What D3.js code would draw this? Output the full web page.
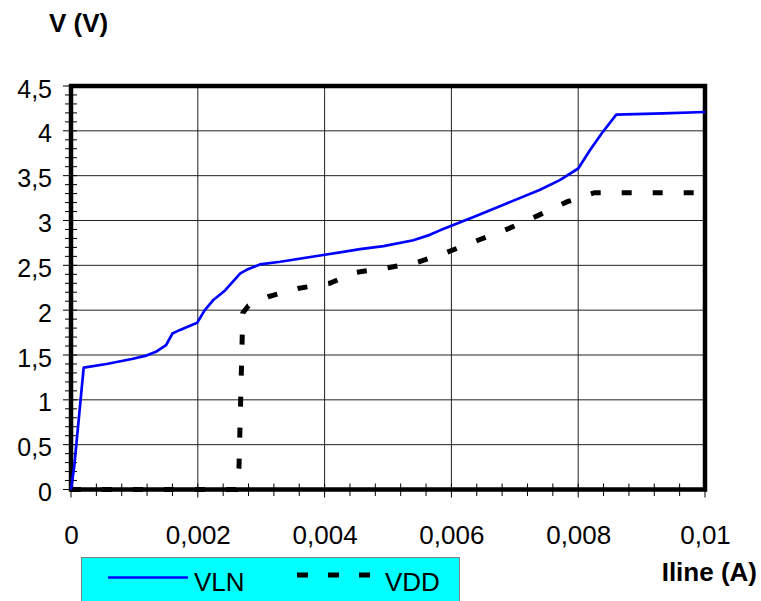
<!DOCTYPE html>
<html>
<head>
<meta charset="utf-8">
<script src="https://cdn.jsdelivr.net/npm/d3@7"></script>
<style>
  body { margin: 0; background: #fff; }
  svg { display: block; font-family: "Liberation Sans", Arial, sans-serif; }
</style>
</head>
<body>
<div id="chart"></div>
<script>
// values (current in A, voltage in V)
var vlnCurrent = [0, 0.00005, 0.0002, 0.00056, 0.00096, 0.00117, 0.00135, 0.0015, 0.0016, 0.00172,
    0.00199, 0.00211, 0.00224, 0.00243, 0.00267, 0.00277, 0.00298, 0.0033, 0.00398, 0.00456,
    0.00493, 0.0054, 0.00566, 0.00582, 0.00635, 0.00687, 0.00739, 0.00771, 0.008, 0.00819,
    0.00837, 0.0086, 0.00934, 0.01];
var vlnVoltage = [0, 0.25, 1.36, 1.40, 1.455, 1.49, 1.54, 1.61, 1.74, 1.78,
    1.86, 2.0, 2.11, 2.22, 2.41, 2.45, 2.51, 2.54, 2.615, 2.68,
    2.715, 2.78, 2.84, 2.89, 3.04, 3.19, 3.34, 3.45, 3.58, 3.79,
    3.97, 4.18, 4.195, 4.21];

var vddCurrent = [0, 0.0026, 0.00265, 0.00271, 0.0028, 0.00311, 0.0036, 0.00408, 0.00448, 0.00497,
    0.00545, 0.00593, 0.00642, 0.0069, 0.00738, 0.00783, 0.00826, 0.01];
var vddVoltage = [0, 0, 0.25, 1.97, 2.05, 2.15, 2.245, 2.30, 2.42, 2.47,
    2.53, 2.645, 2.78, 2.91, 3.06, 3.21, 3.31, 3.31];

var yTicks = [0, 0.5, 1, 1.5, 2, 2.5, 3, 3.5, 4, 4.5];
var yTickLabels = ["0", "0,5", "1", "1,5", "2", "2,5", "3", "3,5", "4", "4,5"];
var xTicks = [0, 0.002, 0.004, 0.006, 0.008, 0.01];
var xTickLabels = ["0", "0,002", "0,004", "0,006", "0,008", "0,01"];
var seriesNames = ["VLN", "VDD"];

var svgWidth = 761;
var svgHeight = 601;

// plot area edges (note: "top" is taken by window.top)
var plotLeft = 71, plotRight = 705, plotTop = 86, plotBottom = 489.5;

var svg = d3.select("#chart")
    .append("svg")
    .attr("width", svgWidth)
    .attr("height", svgHeight);

var xScale = d3.scaleLinear().domain([0, 0.01]).range([plotLeft, plotRight]);
var yScale = d3.scaleLinear().domain([0, 4.5]).range([plotBottom, plotTop]);

// grid lines
svg.append("g")
    .selectAll("line")
    .data(yTicks.slice(1, -1))
    .enter()
    .append("line")
    .attr("x1", plotLeft).attr("x2", plotRight)
    .attr("y1", d => yScale(d)).attr("y2", d => yScale(d))
    .attr("stroke", "#222")
    .attr("stroke-width", 1);

svg.append("g")
    .selectAll("line")
    .data(xTicks.slice(1, -1))
    .enter()
    .append("line")
    .attr("y1", plotTop).attr("y2", plotBottom)
    .attr("x1", d => xScale(d)).attr("x2", d => xScale(d))
    .attr("stroke", "#222")
    .attr("stroke-width", 1);

// minor ticks, crossing the axis lines
var yMinor = d3.range(0, 46).map(i => i / 10);
svg.append("g")
    .selectAll("line")
    .data(yMinor)
    .enter()
    .append("line")
    .attr("x1", (d, i) => i % 5 == 0 ? 63 : 65)
    .attr("x2", 77)
    .attr("y1", d => yScale(d)).attr("y2", d => yScale(d))
    .attr("stroke", "#000")
    .attr("stroke-width", 1);

var xMinor = d3.range(0, 26).map(i => i * 0.0004);
svg.append("g")
    .selectAll("line")
    .data(xMinor)
    .enter()
    .append("line")
    .attr("y1", 483.5)
    .attr("y2", (d, i) => i % 5 == 0 ? 497.5 : 496)
    .attr("x1", d => xScale(d)).attr("x2", d => xScale(d))
    .attr("stroke", "#000")
    .attr("stroke-width", 1);

// thick frame
svg.append("rect")
    .attr("x", plotLeft).attr("y", plotTop)
    .attr("width", plotRight - plotLeft).attr("height", plotBottom - plotTop)
    .attr("fill", "none")
    .attr("stroke", "#000")
    .attr("stroke-width", 4.5);

// tick labels through the axes
var leftAxis = d3.axisLeft(yScale)
    .tickValues(yTicks)
    .tickFormat((d, i) => yTickLabels[i])
    .tickSize(0)
    .tickPadding(19);

var bottomAxis = d3.axisBottom(xScale)
    .tickValues(xTicks)
    .tickFormat((d, i) => xTickLabels[i])
    .tickSize(0)
    .tickPadding(36);

var gy = svg.append("g").attr("transform", `translate(${plotLeft},0)`).call(leftAxis);
gy.select(".domain").remove();
gy.selectAll("text")
    .attr("dy", "0.44em")
    .style("font-size", "25px")
    .style("font-family", "Liberation Sans, Arial, sans-serif")
    .attr("fill", "#000");

var gx = svg.append("g").attr("transform", `translate(0,${plotBottom})`).call(bottomAxis);
gx.select(".domain").remove();
gx.selectAll("text")
    .style("font-size", "26px")
    .style("font-family", "Liberation Sans, Arial, sans-serif")
    .attr("fill", "#000");

// series
var line = d3.line()
    .x(d => xScale(d[0]))
    .y(d => yScale(d[1]));

var vdd = d3.zip(vddCurrent, vddVoltage);
var vln = d3.zip(vlnCurrent, vlnVoltage);

svg.append("path")
    .datum(vdd)
    .attr("d", line)
    .attr("fill", "none")
    .attr("stroke", "#000")
    .attr("stroke-width", 5)
    .attr("stroke-dasharray", "10,21");

svg.append("path")
    .datum(vln)
    .attr("d", line)
    .attr("fill", "none")
    .attr("stroke", "#0000ff")
    .attr("stroke-width", 2.7)
    .attr("stroke-linejoin", "round");

// axis titles
svg.append("text")
    .attr("x", 49).attr("y", 32)
    .style("font-size", "26px")
    .style("font-weight", "bold")
    .text("V (V)");

svg.append("text")
    .attr("x", 757).attr("y", 581)
    .attr("text-anchor", "end")
    .style("font-size", "26px")
    .style("font-weight", "bold")
    .text("Iline (A)");

// legend
var legend = svg.append("g");
legend.append("rect")
    .attr("x", 81.5).attr("y", 557.5)
    .attr("width", 378).attr("height", 60)
    .attr("fill", "#00ffff")
    .attr("stroke", "#808080")
    .attr("stroke-width", 1);

legend.append("line")
    .attr("x1", 108).attr("x2", 188)
    .attr("y1", 577.5).attr("y2", 577.5)
    .attr("stroke", "#0000ff")
    .attr("stroke-width", 2.7);

legend.append("line")
    .attr("x1", 297).attr("x2", 371)
    .attr("y1", 575).attr("y2", 575)
    .attr("stroke", "#000")
    .attr("stroke-width", 5)
    .attr("stroke-dasharray", "11,20");

legend.selectAll("text.name")
    .data(seriesNames)
    .enter()
    .append("text")
    .attr("class", "name")
    .attr("x", (d, i) => i == 0 ? 194 : 385)
    .attr("y", 591)
    .style("font-size", "26px")
    .text(d => d);
</script>
</body>
</html>
